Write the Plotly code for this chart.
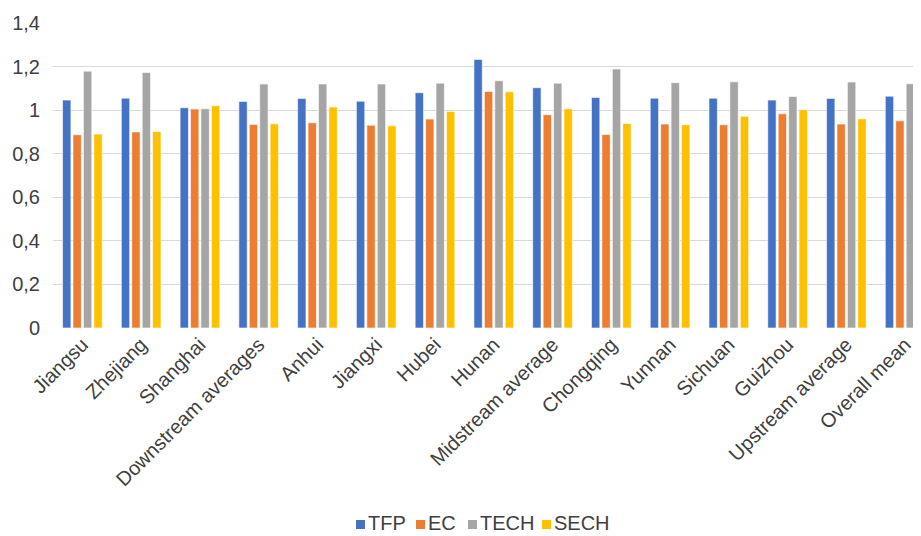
import plotly.graph_objects as go

categories = ["Jiangsu", "Zhejiang", "Shanghai", "Downstream averages", "Anhui", "Jiangxi",
              "Hubei", "Hunan", "Midstream average", "Chongqing", "Yunnan", "Sichuan",
              "Guizhou", "Upstream average", "Overall mean"]
tfp = [1.046, 1.055, 1.011, 1.040, 1.054, 1.041, 1.080, 1.233, 1.103, 1.058, 1.055, 1.055, 1.046, 1.054, 1.064]
ec = [0.887, 0.900, 1.005, 0.934, 0.942, 0.931, 0.959, 1.086, 0.979, 0.888, 0.936, 0.933, 0.983, 0.936, 0.951]
tech = [1.179, 1.173, 1.006, 1.120, 1.120, 1.120, 1.124, 1.135, 1.124, 1.189, 1.126, 1.130, 1.063, 1.129, 1.121]
sech = [0.890, 0.902, 1.020, 0.937, 1.014, 0.928, 0.994, 1.084, 1.006, 0.939, 0.933, 0.972, 1.002, 0.960, 0.966]

series_names = ["TFP", "EC", "TECH", "SECH"]
series_vals = [tfp, ec, tech, sech]
colors = ["#4472C4", "#ED7D31", "#A5A5A5", "#FFC000"]

y_ticks = [0, 0.2, 0.4, 0.6, 0.8, 1.0, 1.2, 1.4]
y_ticktext = ["0", "0,2", "0,4", "0,6", "0,8", "1", "1,2", "1,4"]

TEXT_COLOR = "#404040"
W, H = 913, 528
ML, MR, MT, MB = 45, 0, 15, 208
PW, PH = W - ML - MR, H - MT - MB

fig = go.Figure()
for name, vals, col in zip(series_names, series_vals, colors):
    fig.add_trace(go.Bar(x=categories, y=vals, name=name,
                         marker=dict(color=col, line=dict(color="white", width=0.6))))

# compact spreadsheet-style legend: colour square + label for each series
def px_to_paper_x(px):
    return (px - ML) / PW

def px_to_paper_y(py):
    return (H - MB - py) / PH

legend_sq_left = [348, 408, 460, 534]
sq = 9
leg_cy = 515
for name, col, sx in zip(series_names, colors, legend_sq_left):
    fig.add_shape(type="rect", xref="paper", yref="paper",
                  x0=px_to_paper_x(sx), x1=px_to_paper_x(sx + sq),
                  y0=px_to_paper_y(leg_cy + 6), y1=px_to_paper_y(leg_cy - 3),
                  fillcolor=col, line=dict(width=0))
    fig.add_annotation(text=name, xref="paper", yref="paper",
                       x=px_to_paper_x(sx + sq + 2), y=px_to_paper_y(leg_cy),
                       xanchor="left", yanchor="middle", showarrow=False, borderpad=0,
                       font=dict(size=20, color=TEXT_COLOR))

font_fam = "Liberation Sans, Arial, sans-serif"
fig.update_layout(
    width=W, height=H,
    margin=dict(l=ML, r=MR, t=MT, b=MB),
    paper_bgcolor="white", plot_bgcolor="white",
    barmode="group", bargap=0.29, bargroupgap=0.2,
    font=dict(family=font_fam, size=20, color=TEXT_COLOR),
    showlegend=False,
    xaxis=dict(range=[-0.5, 14.27], tickangle=-45, showgrid=False, zeroline=False,
               showline=False, ticks="", automargin=False,
               tickfont=dict(size=20, color=TEXT_COLOR)),
    yaxis=dict(range=[0, 1.4], tickvals=y_ticks, ticktext=y_ticktext, showgrid=True,
               gridcolor="#D9D9D9", gridwidth=1, zeroline=False, showline=False,
               ticks="", ticklen=0, automargin=False, ticklabelstandoff=12,
               tickfont=dict(size=20, color=TEXT_COLOR)),
)
fig.write_html("out.html")
